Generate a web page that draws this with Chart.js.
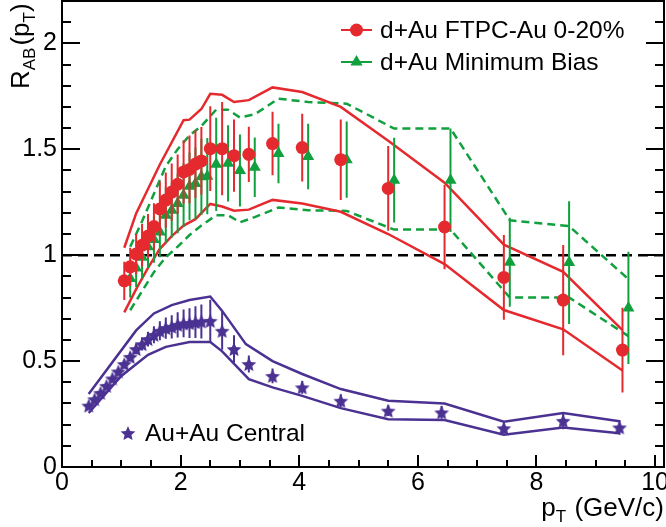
<!DOCTYPE html>
<html lang="en">
<head>
<meta charset="utf-8">
<title>R_AB vs pT</title>
<style>
  html, body { margin: 0; padding: 0; background: #fff; }
  #wrap { width: 666px; height: 527px; }
</style>
</head>
<body>
<div id="wrap"><canvas id="chart" width="666" height="527"></canvas></div>
<script src="https://cdn.jsdelivr.net/npm/chart.js@4.4.1/dist/chart.umd.min.js"></script>
<script>
// axis ranges and ticks
const xMin = 0, xMax = 10.15;
const yMin = 0, yMax = 2.2;
const xMajorTicks = [0, 2, 4, 6, 8, 10];
const yMajorTicks = [0, 0.5, 1, 1.5, 2];

// d+Au FTPC-Au 0-20% (red circles)
const redX = [1.05, 1.15, 1.25, 1.35, 1.45, 1.55, 1.65, 1.75, 1.85, 1.95, 2.05, 2.15, 2.25, 2.35, 2.5, 2.7, 2.9, 3.15, 3.55, 4.05, 4.7, 5.5, 6.45, 7.45, 8.45, 9.45];
const redY = [0.879, 0.945, 1.005, 1.047, 1.09, 1.135, 1.218, 1.26, 1.298, 1.335, 1.393, 1.405, 1.43, 1.445, 1.503, 1.503, 1.47, 1.476, 1.527, 1.508, 1.451, 1.315, 1.133, 0.895, 0.788, 0.552];
const redErr = [0.09, 0.09, 0.095, 0.1, 0.105, 0.11, 0.13, 0.13, 0.135, 0.14, 0.15, 0.16, 0.16, 0.16, 0.2, 0.22, 0.17, 0.13, 0.15, 0.16, 0.19, 0.2, 0.2, 0.2, 0.26, 0.2];
const redHiX = [1.05, 1.25, 1.65, 2.05, 2.15, 2.35, 2.5, 2.7, 2.9, 3.15, 3.55, 4.05, 4.7, 5.5, 6.45, 7.45, 8.45, 9.45];
const redHiY = [1.035, 1.197, 1.428, 1.637, 1.64, 1.69, 1.762, 1.757, 1.723, 1.732, 1.792, 1.77, 1.70, 1.54, 1.342, 1.05, 0.921, 0.646];
const redLoX = [1.05, 1.25, 1.45, 1.65, 1.85, 2.05, 2.25, 2.5, 2.7, 2.9, 3.15, 3.55, 4.05, 4.7, 5.5, 6.45, 7.45, 8.45, 9.45];
const redLoY = [0.73, 0.84, 0.94, 1.03, 1.09, 1.14, 1.17, 1.242, 1.23, 1.21, 1.215, 1.261, 1.244, 1.205, 1.10, 0.958, 0.741, 0.65, 0.456];

// d+Au Minimum Bias (green triangles)
const grnX = [1.15, 1.25, 1.35, 1.45, 1.55, 1.65, 1.75, 1.85, 1.95, 2.05, 2.15, 2.25, 2.35, 2.45, 2.6, 2.8, 3.0, 3.25, 3.65, 4.15, 4.8, 5.6, 6.55, 7.55, 8.55, 9.55];
const grnY = [0.89, 0.94, 0.99, 1.04, 1.074, 1.11, 1.189, 1.212, 1.244, 1.283, 1.325, 1.338, 1.37, 1.373, 1.429, 1.434, 1.40, 1.415, 1.48, 1.466, 1.451, 1.354, 1.354, 0.967, 0.965, 0.751];
const grnErr = [0.09, 0.09, 0.1, 0.1, 0.11, 0.12, 0.13, 0.13, 0.14, 0.15, 0.16, 0.17, 0.18, 0.18, 0.22, 0.18, 0.17, 0.14, 0.14, 0.155, 0.18, 0.2, 0.244, 0.21, 0.29, 0.265];
const grnBandX = [1.15, 1.35, 1.55, 1.75, 1.95, 2.15, 2.35, 2.6, 2.8, 3.0, 3.25, 3.65, 4.15, 4.8, 5.6, 6.55, 7.55, 8.55, 9.55];
const grnHiY = [1.04, 1.16, 1.29, 1.42, 1.50, 1.565, 1.61, 1.687, 1.687, 1.65, 1.665, 1.739, 1.723, 1.715, 1.598, 1.598, 1.165, 1.137, 0.887];
const grnLoY = [0.74, 0.83, 0.92, 0.99, 1.04, 1.095, 1.14, 1.189, 1.189, 1.155, 1.18, 1.225, 1.212, 1.209, 1.121, 1.121, 0.80, 0.80, 0.618];

// Au+Au Central (stars)
const auX = [0.45, 0.55, 0.65, 0.75, 0.85, 0.95, 1.05, 1.15, 1.25, 1.35, 1.45, 1.55, 1.65, 1.75, 1.85, 1.95, 2.05, 2.15, 2.25, 2.35, 2.5, 2.7, 2.9, 3.15, 3.55, 4.05, 4.7, 5.5, 6.4, 7.45, 8.45, 9.4];
const auY = [0.29, 0.32, 0.35, 0.383, 0.418, 0.451, 0.486, 0.52, 0.557, 0.58, 0.604, 0.624, 0.643, 0.656, 0.662, 0.671, 0.678, 0.679, 0.684, 0.687, 0.69, 0.643, 0.557, 0.486, 0.43, 0.376, 0.313, 0.266, 0.258, 0.183, 0.218, 0.187];
const auErr = [0.01, 0.01, 0.012, 0.012, 0.014, 0.015, 0.017, 0.02, 0.025, 0.03, 0.035, 0.04, 0.045, 0.05, 0.055, 0.06, 0.065, 0.07, 0.075, 0.08, 0.1, 0.09, 0.065, 0.04, 0.035, 0.03, 0.03, 0.025, 0.03, 0.025, 0.04, 0.035];
const auHiX = [0.45, 1.25, 1.55, 1.85, 2.15, 2.5, 2.7, 3.1, 3.55, 4.05, 4.7, 5.5, 6.45, 7.45, 8.45, 9.4];
const auHiY = [0.345, 0.645, 0.725, 0.764, 0.788, 0.805, 0.737, 0.58, 0.50, 0.439, 0.368, 0.313, 0.30, 0.214, 0.255, 0.216];
const auLoX = [0.45, 1.0, 1.45, 1.75, 2.15, 2.5, 2.7, 3.15, 3.55, 4.05, 4.7, 5.5, 6.45, 7.45, 8.45, 9.4];
const auLoY = [0.255, 0.43, 0.53, 0.567, 0.59, 0.59, 0.546, 0.415, 0.376, 0.336, 0.278, 0.226, 0.222, 0.152, 0.187, 0.159];

// unity reference
const refX = [xMin, xMax];
const refY = [1, 1];

const RED = '#e52a2f';
const GREEN = '#11a03e';
const PURPLE = '#4a3192';
const FONT = "'Liberation Sans', Arial, Helvetica, sans-serif";

function pts(xs, ys) {
    return xs.map((x, i) => ({ x: x, y: ys[i] }));
}

function starImage(color, R) {
    const c = document.createElement('canvas');
    const s = Math.ceil(R * 2 + 2);
    c.width = s; c.height = s;
    const g = c.getContext('2d');
    g.fillStyle = color;
    g.beginPath();
    for (let k = 0; k < 10; k++) {
        const r = k % 2 ? R * 0.46 : R;
        const a = -Math.PI / 2 + k * Math.PI / 5;
        g.lineTo(s / 2 + r * Math.cos(a), s / 2 + 0.8 + r * Math.sin(a));
    }
    g.closePath();
    g.fill();
    return c;
}
const star = starImage(PURPLE, 7.8);

function bandLine(xs, ys, color, dash) {
    return {
        data: pts(xs, ys),
        showLine: true,
        borderColor: color,
        borderWidth: 2.5,
        borderDash: dash || [],
        pointRadius: 0,
        tension: 0,
        order: 10
    };
}

// vertical error bars under each marker dataset
const errorBars = {
    id: 'errorBars',
    beforeDatasetDraw(chart, args) {
        const ds = chart.data.datasets[args.index];
        if (!ds.errY) return;
        const ctx = chart.ctx, xs = chart.scales.x, ys = chart.scales.y;
        ctx.save();
        ctx.strokeStyle = ds.borderColor;
        ctx.lineWidth = 2;
        ctx.beginPath();
        ds.data.forEach((p, i) => {
            const px = xs.getPixelForValue(p.x);
            ctx.moveTo(px, ys.getPixelForValue(p.y - ds.errY[i]));
            ctx.lineTo(px, ys.getPixelForValue(p.y + ds.errY[i]));
        });
        ctx.stroke();
        ctx.restore();
    }
};

function drawRich(ctx, parts, x, y) {
    parts.forEach(p => {
        ctx.font = p[1];
        ctx.fillText(p[0], x, y + p[2]);
        x += ctx.measureText(p[0]).width + (p[3] || 0);
    });
    return x;
}
function richWidth(ctx, parts) {
    let w = 0;
    parts.forEach(p => { ctx.font = p[1]; w += ctx.measureText(p[0]).width + (p[3] || 0); });
    return w;
}

// ROOT-like frame, inner ticks, titles and legends
const decorations = {
    id: 'decorations',
    afterDraw(chart) {
        const ctx = chart.ctx, a = chart.chartArea;
        const xs = chart.scales.x, ys = chart.scales.y;
        ctx.save();
        ctx.strokeStyle = '#000';
        ctx.lineWidth = 2;
        ctx.strokeRect(a.left, a.top, a.right - a.left, a.bottom - a.top);

        ctx.beginPath();
        for (let v = 0; v <= 10.001; v += 0.5) {
            const px = Math.round(xs.getPixelForValue(v));
            const len = xMajorTicks.some(t => Math.abs(t - v) < 1e-6) ? 12 : 7;
            ctx.moveTo(px, a.bottom);
            ctx.lineTo(px, a.bottom - len);
        }
        for (let v = 0; v <= yMax + 1e-6; v += 0.1) {
            const py = Math.round(ys.getPixelForValue(v));
            const len = yMajorTicks.some(t => Math.abs(t - v) < 1e-6) ? 18 : 9;
            ctx.moveTo(a.left, py);
            ctx.lineTo(a.left + len, py);
            ctx.moveTo(a.right, py);
            ctx.lineTo(a.right - len, py);
        }
        ctx.stroke();

        // axis titles
        const big = '26px ' + FONT, small = '17px ' + FONT;
        ctx.fillStyle = '#000';
        ctx.textBaseline = 'alphabetic';
        ctx.textAlign = 'left';
        const xt = [['p', big, 0], ['T', small, 6, 1], [' (GeV/c)', big, 0]];
        drawRich(ctx, xt, a.right - richWidth(ctx, xt), 516);

        ctx.save();
        ctx.translate(29, 89);
        ctx.rotate(-Math.PI / 2);
        drawRich(ctx, [['R', big, 0], ['AB', small, 6, 2], ['(p', big, 0], ['T', small, 6], [')', big, 0]], 0, 0);
        ctx.restore();

        // legends
        const lf = '24.5px ' + FONT;
        ctx.font = lf;
        ctx.textBaseline = 'middle';
        ctx.lineWidth = 2;

        ctx.strokeStyle = RED;
        ctx.beginPath(); ctx.moveTo(341, 30); ctx.lineTo(372, 30); ctx.stroke();
        ctx.fillStyle = RED;
        ctx.beginPath(); ctx.arc(356.5, 30, 6.5, 0, Math.PI * 2); ctx.fill();
        ctx.fillStyle = '#000';
        ctx.fillText('d+Au FTPC-Au 0-20%', 380, 31);

        ctx.strokeStyle = GREEN;
        ctx.beginPath(); ctx.moveTo(341, 62); ctx.lineTo(372, 62); ctx.stroke();
        ctx.fillStyle = GREEN;
        ctx.beginPath();
        ctx.moveTo(356.5, 62 - 7); ctx.lineTo(356.5 + 6.1, 62 + 3.5); ctx.lineTo(356.5 - 6.1, 62 + 3.5);
        ctx.closePath(); ctx.fill();
        ctx.fillStyle = '#000';
        ctx.fillText('d+Au Minimum Bias', 380, 63);

        ctx.drawImage(star, 128 - star.width / 2, 433 - star.height / 2);
        ctx.fillText('Au+Au Central', 145, 434);
        ctx.restore();
    }
};

const chartData = {
    datasets: [
        {
            label: 'd+Au FTPC-Au 0-20%',
            data: pts(redX, redY),
            errY: redErr,
            borderColor: RED,
            backgroundColor: RED,
            pointStyle: 'circle',
            pointRadius: 6.5,
            pointBorderWidth: 0,
            showLine: false,
            order: 0
        },
        {
            label: 'd+Au Minimum Bias',
            data: pts(grnX, grnY),
            errY: grnErr,
            borderColor: GREEN,
            backgroundColor: GREEN,
            pointStyle: 'triangle',
            pointRadius: 7,
            pointBorderWidth: 0,
            showLine: false,
            order: 1
        },
        {
            label: 'Au+Au Central',
            data: pts(auX, auY),
            errY: auErr,
            borderColor: PURPLE,
            backgroundColor: PURPLE,
            pointStyle: star,
            pointRadius: 7.8,
            showLine: false,
            order: 2
        },
        bandLine(redHiX, redHiY, RED),
        bandLine(redLoX, redLoY, RED),
        bandLine(grnBandX, grnHiY, GREEN, [8, 5]),
        bandLine(grnBandX, grnLoY, GREEN, [8, 5]),
        bandLine(auHiX, auHiY, PURPLE),
        bandLine(auLoX, auLoY, PURPLE),
        Object.assign(bandLine(refX, refY, '#000', [10, 6]), { order: 12 })
    ]
};

const chartConfig = {
    type: 'scatter',
    data: chartData,
    options: {
        responsive: false,
        animation: false,
        events: [],
        layout: { autoPadding: false, padding: { top: 1, right: 2, left: 0, bottom: 0 } },
        plugins: {
            legend: { display: false },
            tooltip: { enabled: false }
        },
        scales: {
            x: {
                type: 'linear',
                min: xMin,
                max: xMax,
                grid: { display: false, drawTicks: false },
                border: { display: false },
                afterBuildTicks: s => { s.ticks = xMajorTicks.map(v => ({ value: v })); },
                afterFit: s => { s.height = 60; s.paddingLeft = 0; s.paddingRight = 0; },
                ticks: {
                    color: '#000',
                    padding: 1,
                    maxRotation: 0,
                    autoSkip: false,
                    font: { family: FONT, size: 25 },
                    callback: v => String(v)
                }
            },
            y: {
                type: 'linear',
                min: yMin,
                max: yMax,
                grid: { display: false, drawTicks: false },
                border: { display: false },
                afterBuildTicks: s => { s.ticks = yMajorTicks.map(v => ({ value: v })); },
                afterFit: s => { s.width = 62; s.paddingTop = 0; s.paddingBottom = 0; },
                ticks: {
                    color: '#000',
                    padding: 5,
                    autoSkip: false,
                    font: { family: FONT, size: 25 },
                    callback: v => String(v)
                }
            }
        }
    },
    plugins: [errorBars, decorations]
};

new Chart(document.getElementById('chart'), chartConfig);
</script>
</body>
</html>
